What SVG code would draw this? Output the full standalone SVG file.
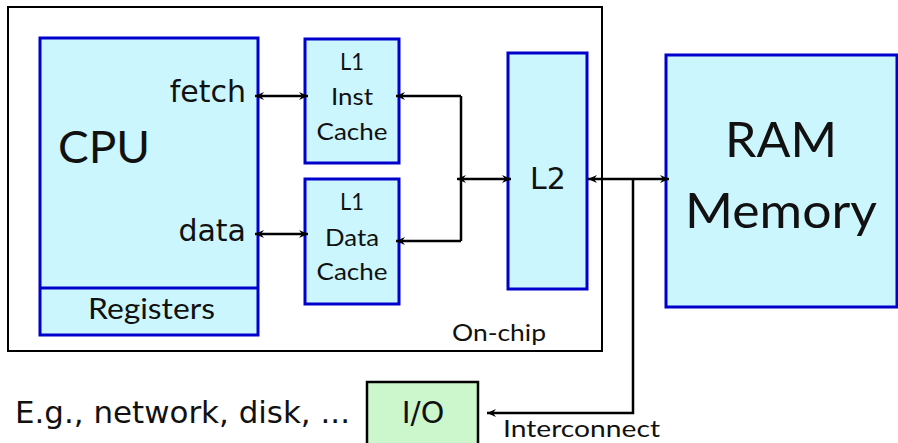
<svg xmlns="http://www.w3.org/2000/svg" width="898" height="443" viewBox="0 0 898 443">
<style>
.blk{fill:#ccf6fd;stroke:#0000cc;stroke-width:3}
.io{fill:#ccf7cc;stroke:#000;stroke-width:2.5}
.hum{font-family:Lato,"Open Sans",sans-serif;fill:#111}
.dj{font-family:"DejaVu Sans",sans-serif;fill:#111}
.c{text-anchor:middle}
.wire{fill:none;stroke:#000;stroke-width:2.5}
</style>
<defs>
<marker id="ah" viewBox="-10 -5 11 10" refX="0" refY="0" markerWidth="11" markerHeight="10" markerUnits="userSpaceOnUse" orient="auto-start-reverse">
<path d="M0,0 L-9,-4 L-6,0 L-9,4 Z" fill="#000"/>
</marker>
</defs>
<g id="onchip">
<rect x="8" y="7" width="594" height="344" fill="none" stroke="#000" stroke-width="2"/>
<text class="hum" x="452" y="341" font-size="24" textLength="94" lengthAdjust="spacingAndGlyphs">On-chip</text>
</g>
<g id="cpu">
<rect class="blk" x="40" y="38" width="218" height="297"/>
<line x1="40" y1="288" x2="258" y2="288" stroke="#0000cc" stroke-width="3"/>
<text class="hum" x="58" y="163" font-size="44" textLength="92" lengthAdjust="spacingAndGlyphs">CPU</text>
<text class="dj" x="246" y="102" font-size="30" text-anchor="end">fetch</text>
<text class="dj" x="246" y="241" font-size="30" text-anchor="end">data</text>
<text class="hum" x="88" y="319" font-size="28" textLength="127" lengthAdjust="spacingAndGlyphs">Registers</text>
</g>
<g id="l1inst">
<rect class="blk" x="305" y="39" width="94" height="124"/>
<text class="hum c" x="352" y="70" font-size="24" textLength="24" lengthAdjust="spacingAndGlyphs">L1</text>
<text class="hum c" x="352" y="105" font-size="24" textLength="42" lengthAdjust="spacingAndGlyphs">Inst</text>
<text class="hum c" x="352" y="140" font-size="24" textLength="71" lengthAdjust="spacingAndGlyphs">Cache</text>
</g>
<g id="l1data">
<rect class="blk" x="305" y="179" width="94" height="125"/>
<text class="hum c" x="352" y="210" font-size="24" textLength="24" lengthAdjust="spacingAndGlyphs">L1</text>
<text class="hum c" x="352" y="246" font-size="24" textLength="54" lengthAdjust="spacingAndGlyphs">Data</text>
<text class="hum c" x="352" y="280" font-size="24" textLength="71" lengthAdjust="spacingAndGlyphs">Cache</text>
</g>
<g id="l2">
<rect class="blk" x="508" y="53" width="79" height="236"/>
<text class="dj c" x="548" y="189" font-size="30">L2</text>
</g>
<g id="ram">
<rect class="blk" x="666" y="55" width="231" height="252"/>
<text class="hum c" x="781" y="157" font-size="48" textLength="112" lengthAdjust="spacingAndGlyphs">RAM</text>
<text class="hum c" x="781" y="228" font-size="48" textLength="192" lengthAdjust="spacingAndGlyphs">Memory</text>
</g>
<g id="io">
<rect class="io" x="367" y="382" width="111" height="70"/>
<text class="dj c" x="423" y="423" font-size="30">I/O</text>
</g>
<g id="labels">
<text class="dj" x="15" y="423" font-size="30" textLength="335" lengthAdjust="spacingAndGlyphs">E.g., network, disk, ...</text>
<text class="hum" x="503" y="437" font-size="24" textLength="157" lengthAdjust="spacingAndGlyphs">Interconnect</text>
</g>
<g id="connectors">
<line class="wire" x1="255" y1="96" x2="308" y2="96" marker-start="url(#ah)" marker-end="url(#ah)"/>
<line class="wire" x1="255" y1="234" x2="308" y2="234" marker-start="url(#ah)" marker-end="url(#ah)"/>
<polyline class="wire" points="461,96 461,241"/>
<line class="wire" x1="461" y1="96" x2="396" y2="96" marker-end="url(#ah)"/>
<line class="wire" x1="461" y1="241" x2="396" y2="241" marker-end="url(#ah)"/>
<line class="wire" x1="457" y1="179" x2="511" y2="179" marker-start="url(#ah)" marker-end="url(#ah)"/>
<line class="wire" x1="588" y1="179" x2="669" y2="179" marker-start="url(#ah)" marker-end="url(#ah)"/>
<polyline class="wire" points="633,179 633,413 487,413" marker-end="url(#ah)"/>
</g>
</svg>
